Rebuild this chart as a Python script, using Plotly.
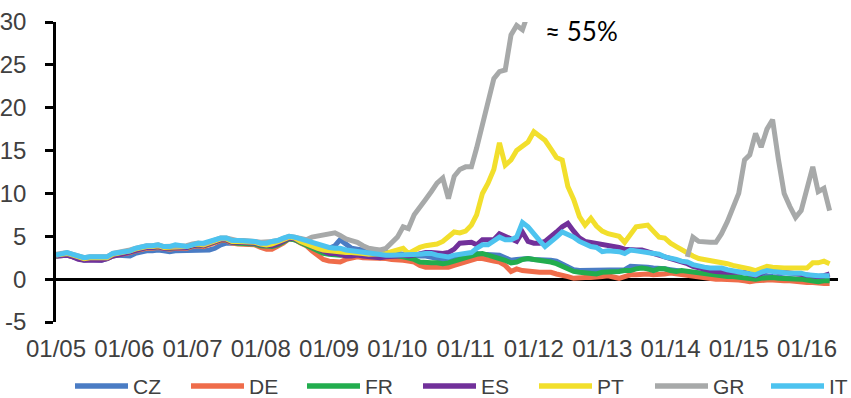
import pandas as pd
import plotly.graph_objects as go

# Monthly observations, Jan 2005 - May 2016 (yields, %)
months = pd.date_range("2005-01-01", periods=137, freq="MS")

cz = [
    2.7, 2.7, 2.8, 2.6, 2.4, 2.2, 2.3, 2.3, 2.2, 2.4, 2.7, 2.8,
    2.8, 2.7, 3.0, 3.2, 3.3, 3.3, 3.4, 3.3, 3.2, 3.3, 3.3, 3.3,
    3.3, 3.3, 3.3, 3.4, 3.6, 4.0, 4.2, 4.2, 4.2, 4.3, 4.3, 4.3,
    4.2, 4.0, 4.1, 4.3, 4.5, 4.7, 4.6, 4.4, 4.2, 4.0, 3.7, 3.6,
    3.6, 3.9, 4.6, 4.0, 3.6, 3.5, 3.4, 3.2, 3.2, 3.1, 3.1, 3.1,
    3.0, 2.9, 2.8, 2.8, 2.7, 2.7, 2.6, 2.4, 2.3, 2.4, 2.5, 2.7,
    2.9, 3.0, 3.0, 2.9, 2.9, 2.9, 2.8, 2.5, 2.2, 2.3, 2.4, 2.4,
    2.3, 2.3, 2.2, 2.2, 2.1, 1.8, 1.5, 1.1, 1.0, 1.0, 1.0, 1.0,
    1.0, 1.0, 1.0, 1.0, 1.1, 1.5, 1.5, 1.4, 1.4, 1.3, 1.3, 1.2,
    1.1, 1.0, 0.9, 0.8, 0.7, 0.6, 0.5, 0.4, 0.3, 0.3, 0.3, 0.2,
    0.1, 0.1, 0.0, 0.0, 0.2, 0.4, 0.3, 0.2, 0.1, 0.0, 0.0, 0.0,
    0.0, -0.1, 0.0, 0.0, 0.0,
]

de = [
    2.7, 2.7, 2.8, 2.6, 2.4, 2.3, 2.4, 2.4, 2.3, 2.4, 2.7, 2.8,
    2.9, 3.1, 3.3, 3.5, 3.6, 3.6, 3.7, 3.6, 3.5, 3.6, 3.6, 3.6,
    3.8, 3.9, 3.8, 4.0, 4.2, 4.5, 4.5, 4.2, 4.1, 4.1, 4.0, 4.0,
    3.7, 3.5, 3.5, 3.8, 4.2, 4.7, 4.6, 4.2, 3.9, 3.3, 2.8, 2.3,
    2.1, 2.0, 2.0, 2.3, 2.5, 2.6, 2.5, 2.5, 2.4, 2.4, 2.4, 2.3,
    2.3, 2.2, 2.1, 2.0, 1.6, 1.4, 1.4, 1.4, 1.4, 1.4, 1.6, 1.8,
    2.0, 2.3, 2.4, 2.4, 2.2, 2.1, 2.0, 1.6, 0.9, 1.2, 1.0, 0.9,
    0.8, 0.8, 0.8, 0.8, 0.6, 0.5, 0.3, 0.1, 0.2, 0.2, 0.2, 0.2,
    0.3, 0.4, 0.2, 0.1, 0.3, 0.5, 0.5, 0.6, 0.6, 0.5, 0.5, 0.6,
    0.7, 0.6, 0.5, 0.5, 0.4, 0.3, 0.2, 0.1, 0.0, 0.0, 0.0, -0.1,
    -0.1, -0.2, -0.3, -0.2, -0.1, -0.1, -0.1, -0.2, -0.2, -0.2, -0.3, -0.3,
    -0.4, -0.4, -0.5, -0.5, -0.5,
]

fr = [
    2.7, 2.8, 2.9, 2.7, 2.5, 2.4, 2.5, 2.5, 2.4, 2.5, 2.8, 2.9,
    3.0, 3.2, 3.4, 3.6, 3.7, 3.7, 3.8, 3.7, 3.6, 3.7, 3.7, 3.7,
    3.9, 4.0, 3.9, 4.1, 4.3, 4.6, 4.6, 4.3, 4.2, 4.2, 4.1, 4.1,
    3.9, 3.8, 3.8, 4.0, 4.3, 4.7, 4.6, 4.3, 4.0, 3.6, 3.3, 3.0,
    2.9, 2.8, 2.8, 2.9, 3.0, 3.0, 2.8, 2.8, 2.7, 2.7, 2.7, 2.7,
    2.7, 2.6, 2.5, 2.3, 2.0, 1.9, 1.9, 1.9, 1.8, 1.9, 2.1, 2.4,
    2.6, 2.8, 2.9, 3.0, 2.8, 2.7, 2.5, 2.2, 1.9, 2.0, 2.3, 2.4,
    2.3, 2.2, 2.2, 2.0, 1.8, 1.5, 1.2, 0.9, 0.8, 0.7, 0.7, 0.6,
    0.8, 0.8, 0.8, 0.9, 1.0, 1.0, 1.2, 1.3, 1.2, 1.0, 1.2, 1.2,
    1.0, 0.9, 1.0, 0.9, 0.8, 0.8, 0.6, 0.5, 0.5, 0.4, 0.3, 0.3,
    0.2, 0.2, 0.1, 0.0, 0.1, 0.2, 0.2, 0.1, 0.1, 0.0, 0.0, 0.0,
    -0.1, -0.2, -0.3, -0.2, -0.2,
]

es = [
    2.7, 2.7, 2.8, 2.6, 2.3, 2.2, 2.2, 2.3, 2.2, 2.4, 2.7, 2.8,
    3.0, 3.2, 3.4, 3.6, 3.7, 3.7, 3.8, 3.6, 3.6, 3.7, 3.7, 3.7,
    3.9, 4.0, 3.9, 4.1, 4.3, 4.6, 4.6, 4.3, 4.3, 4.3, 4.2, 4.2,
    4.0, 3.9, 3.9, 4.1, 4.4, 4.8, 4.7, 4.4, 4.2, 3.9, 3.6, 3.3,
    3.0, 3.0, 2.8, 2.7, 2.7, 2.8, 2.7, 2.6, 2.5, 2.5, 2.6, 2.6,
    2.7, 2.8, 2.7, 2.8, 3.0, 3.1, 3.1, 3.0, 3.0, 3.1, 3.5, 4.2,
    4.3, 4.3, 4.0, 4.6, 4.6, 4.6, 5.3, 5.0, 4.7, 4.4, 5.5, 4.4,
    4.2, 4.2, 4.4, 4.9, 5.5, 6.1, 6.5, 5.6, 4.8, 4.4, 4.3, 4.2,
    4.1, 4.0, 3.9, 3.7, 3.5, 3.4, 3.4, 3.4, 3.2, 3.0, 2.8, 2.7,
    2.5, 2.3, 2.1, 1.8, 1.5, 1.3, 1.1, 1.0, 0.9, 0.8, 0.8, 0.8,
    0.8, 0.8, 0.6, 0.4, 0.7, 1.0, 1.0, 0.8, 0.8, 0.7, 0.6, 0.5,
    0.5, 0.4, 0.3, 0.4, 0.6,
]

pt = [
    2.8, 2.9, 3.0, 2.8, 2.6, 2.4, 2.5, 2.5, 2.4, 2.5, 2.9, 3.0,
    3.1, 3.3, 3.5, 3.7, 3.8, 3.8, 3.9, 3.7, 3.7, 3.8, 3.8, 3.8,
    4.0, 4.1, 4.0, 4.2, 4.4, 4.7, 4.7, 4.4, 4.4, 4.4, 4.3, 4.3,
    4.1, 4.0, 4.1, 4.3, 4.6, 4.9, 4.8, 4.4, 4.1, 3.9, 3.6, 3.4,
    3.3, 3.3, 3.2, 3.1, 3.1, 3.1, 3.0, 2.9, 2.9, 2.9, 3.0, 3.2,
    3.4, 3.6, 3.0, 3.4, 3.7, 3.9, 4.0, 4.1, 4.4, 4.9, 5.5, 5.4,
    5.6, 6.3, 7.5, 10.0, 11.2, 12.8, 15.9, 13.3, 13.9, 15.0, 15.6, 16.0,
    17.2, 16.6, 16.2, 15.2, 14.2, 13.9, 10.8, 9.3, 7.3, 6.3, 7.1, 6.2,
    5.6, 5.3, 5.2, 5.0, 4.3, 5.2, 6.1, 6.2, 6.3, 5.6, 4.9, 4.8,
    4.2, 3.8, 3.4, 3.0, 2.7, 2.4, 2.3, 2.2, 2.1, 1.9, 1.8, 1.6,
    1.5, 1.4, 1.2, 1.0, 1.2, 1.5, 1.4, 1.3, 1.3, 1.3, 1.3, 1.3,
    1.3, 1.9, 1.9, 2.1, 1.8,
]

# GR: no quotes between the 2012 restructuring and the 2014 re-issue
gr = [
    2.9, 3.0, 3.1, 2.9, 2.7, 2.5, 2.6, 2.6, 2.5, 2.6, 3.0, 3.1,
    3.2, 3.4, 3.6, 3.8, 3.9, 3.9, 4.0, 3.8, 3.8, 3.9, 3.9, 3.9,
    4.1, 4.2, 4.1, 4.3, 4.5, 4.8, 4.8, 4.6, 4.5, 4.5, 4.5, 4.4,
    4.3, 4.3, 4.4, 4.5, 4.8, 5.0, 4.9, 4.7, 4.6, 4.9, 5.0, 5.1,
    5.3, 5.4, 5.1, 4.7, 4.5, 4.3, 3.9, 3.6, 3.5, 3.4, 3.6, 4.2,
    4.9, 6.1, 5.9, 7.5, 8.3, 9.3, 10.2, 11.2, 11.8, 9.4, 12.0, 12.8,
    13.1, 13.1, 15.3, 18.0, 21.0, 23.4, 24.2, 24.4, 28.5, 29.6, 29.1, 31.0,
    44.0, 55.0, None, None, None, None, None, None, None, None, None, None,
    None, None, None, None, None, None, None, None, None, None, None, None,
    None, None, None, 2.6, 4.9, 4.4, 4.3, 4.3, 4.3, 5.3, 6.7, 8.2,
    10.0, 13.9, 14.5, 17.0, 15.4, 17.5, 18.6, 14.0, 10.0, 8.5, 7.2, 8.0,
    10.4, 13.1, 10.2, 10.6, 8.0,
]

it = [
    2.8, 3.0, 3.1, 2.9, 2.7, 2.5, 2.6, 2.6, 2.5, 2.6, 3.0, 3.1,
    3.2, 3.3, 3.6, 3.8, 3.9, 3.9, 4.0, 3.8, 3.8, 4.0, 3.9, 3.8,
    4.0, 4.2, 4.2, 4.4, 4.6, 4.8, 4.8, 4.5, 4.5, 4.5, 4.5, 4.4,
    4.2, 4.2, 4.4, 4.5, 4.8, 5.0, 4.9, 4.7, 4.5, 4.3, 4.0, 3.8,
    3.7, 3.6, 3.6, 3.4, 3.3, 3.2, 3.1, 3.0, 2.9, 2.9, 2.8, 2.8,
    2.8, 2.8, 2.8, 2.8, 2.9, 3.0, 3.0, 2.8, 2.7, 2.6, 2.8, 2.9,
    3.0, 3.1, 3.6, 4.0, 4.0, 4.4, 4.9, 4.6, 4.6, 4.9, 6.6, 6.1,
    5.2, 4.5, 3.8, 4.3, 4.9, 5.5, 5.2, 4.9, 4.4, 4.1, 3.8, 3.7,
    3.2, 3.3, 3.3, 3.2, 3.0, 3.4, 3.3, 3.2, 3.2, 3.0, 2.9, 2.6,
    2.5, 2.3, 2.1, 2.0, 1.7, 1.5, 1.4, 1.3, 1.3, 1.3, 1.1, 1.0,
    0.9, 0.8, 0.6, 0.5, 0.8, 1.0, 0.9, 0.8, 0.8, 0.7, 0.7, 0.7,
    0.5, 0.4, 0.4, 0.4, 0.4,
]

names = ["CZ", "DE", "FR", "ES", "PT", "GR", "IT"]
values = [cz, de, fr, es, pt, gr, it]
colors = ["#4a7cc4", "#ef6c4a", "#22ad4e", "#71309a", "#f2df2c", "#a7a9a9", "#4dc3ef"]

y_ticks = [-5, 0, 5, 10, 15, 20, 25, 30]
tick_years = list(range(2005, 2017))
x_tick_vals = [f"{y}-01-01" for y in tick_years]
x_tick_text = [f"01/{y % 100:02d}" for y in tick_years]

FONT = "Liberation Sans, Arial, sans-serif"
TEXT_COLOR = "#404040"

fig = go.Figure()
for name, vals, col in zip(names, values, colors):
    fig.add_trace(go.Scatter(
        x=months, y=vals, name=name, mode="lines",
        line=dict(color=col, width=5),
        connectgaps=False, showlegend=False,
    ))

# plot-area geometry (pixels) used to place the legend row below the axis
W, H = 851, 398
ML, MR, MT, MB = 56, 13, 22, 76
PW, PH = W - ML - MR, H - MT - MB


def px_x(px):
    return (px - ML) / PW


def px_y(py):
    return (H - MB - py) / PH


shapes = []
annotations = []
legend_y = 386
for i, (name, col) in enumerate(zip(names, colors)):
    x0 = 75 + i * 116
    shapes.append(dict(
        type="line", xref="paper", yref="paper",
        x0=px_x(x0), x1=px_x(x0 + 53), y0=px_y(legend_y), y1=px_y(legend_y),
        line=dict(color=col, width=5.5),
    ))
    annotations.append(dict(
        text=name, xref="paper", yref="paper",
        x=px_x(x0 + 56), y=px_y(legend_y), xanchor="left", yanchor="middle",
        showarrow=False, font=dict(family=FONT, size=21, color=TEXT_COLOR),
    ))

# note on the GR peak, which runs off the top of the scale
gr_peak = max(v for v in gr if v is not None)
annotations.append(dict(
    text=f"≈ {gr_peak:.0f}%", x=months[85] + pd.Timedelta(days=20), y=28.9,
    xref="x", yref="y", xanchor="left", yanchor="middle", showarrow=False,
    font=dict(family="Lato, sans-serif", size=26, color="#000000"),
))

fig.update_layout(
    width=W, height=H,
    margin=dict(l=ML, r=MR, t=MT, b=MB, pad=0),
    paper_bgcolor="white", plot_bgcolor="white",
    shapes=shapes, annotations=annotations,
    showlegend=False,
    xaxis=dict(
        type="date", range=["2005-01-01", "2016-06-15"],
        tickvals=x_tick_vals, ticktext=x_tick_text,
        showgrid=False, showline=False, zeroline=False, ticks="",
        tickfont=dict(family=FONT, size=24, color=TEXT_COLOR),
        ticklabelstandoff=10, automargin=False,
    ),
    yaxis=dict(
        range=[-5, 30], tickvals=y_ticks, ticktext=[str(v) for v in y_ticks],
        showgrid=False, showline=True, linecolor="black", linewidth=2.5,
        ticks="outside", ticklen=8, tickwidth=2.5, tickcolor="black",
        zeroline=True, zerolinecolor="black", zerolinewidth=2.5,
        tickfont=dict(family=FONT, size=24, color=TEXT_COLOR),
        ticklabelstandoff=14, automargin=False,
    ),
)

fig.write_html("out.html")
